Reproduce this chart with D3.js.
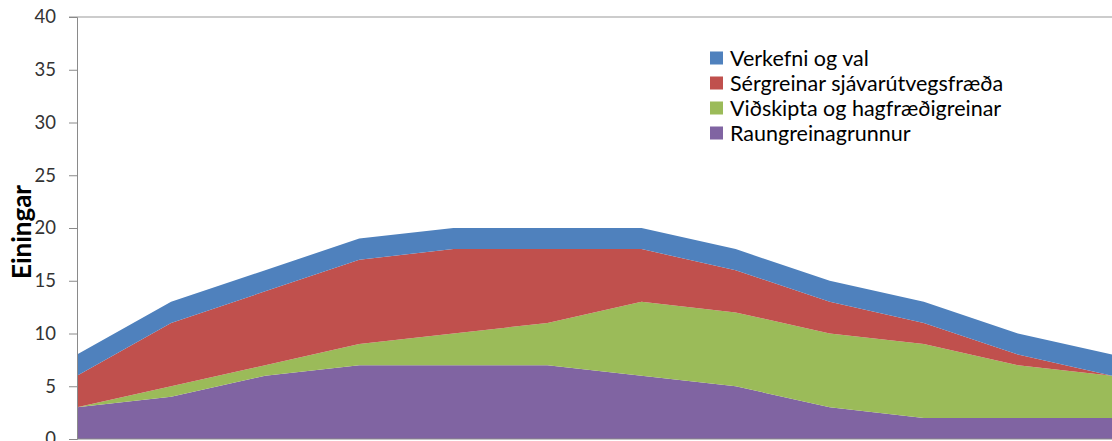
<!DOCTYPE html>
<html>
<head>
<meta charset="utf-8">
<script src="https://cdn.jsdelivr.net/npm/d3@7"></script>
<style>
  body { margin: 0; background: #fff; }
  svg { display: block; font-family: Lato, "Open Sans", sans-serif; }
</style>
</head>
<body>
<div id="chart"></div>
<script>
// categories (semesters) and series values, stacked bottom to top
var categories = ["1", "2", "3", "4", "5", "6", "7", "8", "9", "10", "11", "12"];
var raungreinar = [3, 4, 6, 7, 7, 7, 6, 5, 3, 2, 2, 2];
var vidskipti   = [0, 1, 1, 2, 3, 4, 7, 7, 7, 7, 5, 4];
var sergreinar  = [3, 6, 7, 8, 8, 7, 5, 4, 3, 2, 1, 0];
var verkefni    = [2, 2, 2, 2, 2, 2, 2, 2, 2, 2, 2, 2];
var seriesNames = ["Raungreinagrunnur", "Viðskipta og hagfræðigreinar", "Sérgreinar sjávarútvegsfræða", "Verkefni og val"];
var seriesColors = ["#8064A2", "#9BBB59", "#C0504D", "#4F81BD"];
var yTicks = [0, 5, 10, 15, 20, 25, 30, 35, 40];

var width = 1112, height = 441;
var margin = {top: 17, right: 0, bottom: 2, left: 77};

var svg = d3.select("#chart")
    .append("svg")
    .attr("width", width)
    .attr("height", height);

var rows = categories.map(function(c, i) {
    return {
        cat: c,
        s0: raungreinar[i],
        s1: vidskipti[i],
        s2: sergreinar[i],
        s3: verkefni[i]
    };
});

var x = d3.scalePoint()
    .domain(categories)
    .range([margin.left, width - margin.right]);

var y = d3.scaleLinear()
    .domain([0, 40])
    .range([height - margin.bottom, margin.top]);

var layers = d3.stack().keys(["s0", "s1", "s2", "s3"])(rows);

var area = d3.area()
    .x(function(d) { return x(d.data.cat); })
    .y0(function(d) { return y(d[0]); })
    .y1(function(d) { return y(d[1]); });

svg.selectAll("path.layer")
    .data(layers)
    .enter().append("path")
    .attr("class", "layer")
    .attr("d", area)
    .attr("fill", function(d, i) { return seriesColors[i]; });

// top border line
svg.append("line")
    .attr("x1", 69).attr("x2", width)
    .attr("y1", y(40)).attr("y2", y(40))
    .attr("stroke", "#cccccc")
    .attr("stroke-width", 2);

// y axis
var yAxis = d3.axisLeft(y)
    .tickValues(yTicks)
    .tickSize(8)
    .tickPadding(13);

var gy = svg.append("g")
    .attr("transform", "translate(" + margin.left + ",0)")
    .call(yAxis);
gy.select(".domain").attr("stroke", "#8a8a8a");
gy.selectAll(".tick line").attr("stroke", "#8a8a8a");
gy.selectAll(".tick text")
    .attr("fill", "#333")
    .attr("font-size", "18.5px")
    .attr("font-family", "Lato, 'Open Sans', sans-serif");

// x axis line only (category labels are below the visible area)
svg.append("line")
    .attr("x1", margin.left).attr("x2", width)
    .attr("y1", y(0)).attr("y2", y(0))
    .attr("stroke", "#8a8a8a");

// y axis title
svg.append("text")
    .attr("transform", "translate(31,232) rotate(-90)")
    .attr("text-anchor", "middle")
    .attr("font-size", "26px")
    .attr("font-weight", "bold")
    .attr("fill", "#000")
    .text("Einingar");

// legend, top series first
var legend = svg.append("g").attr("transform", "translate(710,58)");
var order = [3, 2, 1, 0];
var item = legend.selectAll("g")
    .data(order)
    .enter().append("g")
    .attr("transform", function(d, i) { return "translate(0," + (i * 25) + ")"; });

item.append("rect")
    .attr("x", 0).attr("y", -6.5)
    .attr("width", 13).attr("height", 13)
    .attr("fill", function(d) { return seriesColors[d]; });

item.append("text")
    .attr("x", 20)
    .attr("y", 0)
    .attr("dy", ".35em")
    .attr("font-size", "21.5px")
    .attr("fill", "#000")
    .text(function(d) { return seriesNames[d]; });
</script>
</body>
</html>
